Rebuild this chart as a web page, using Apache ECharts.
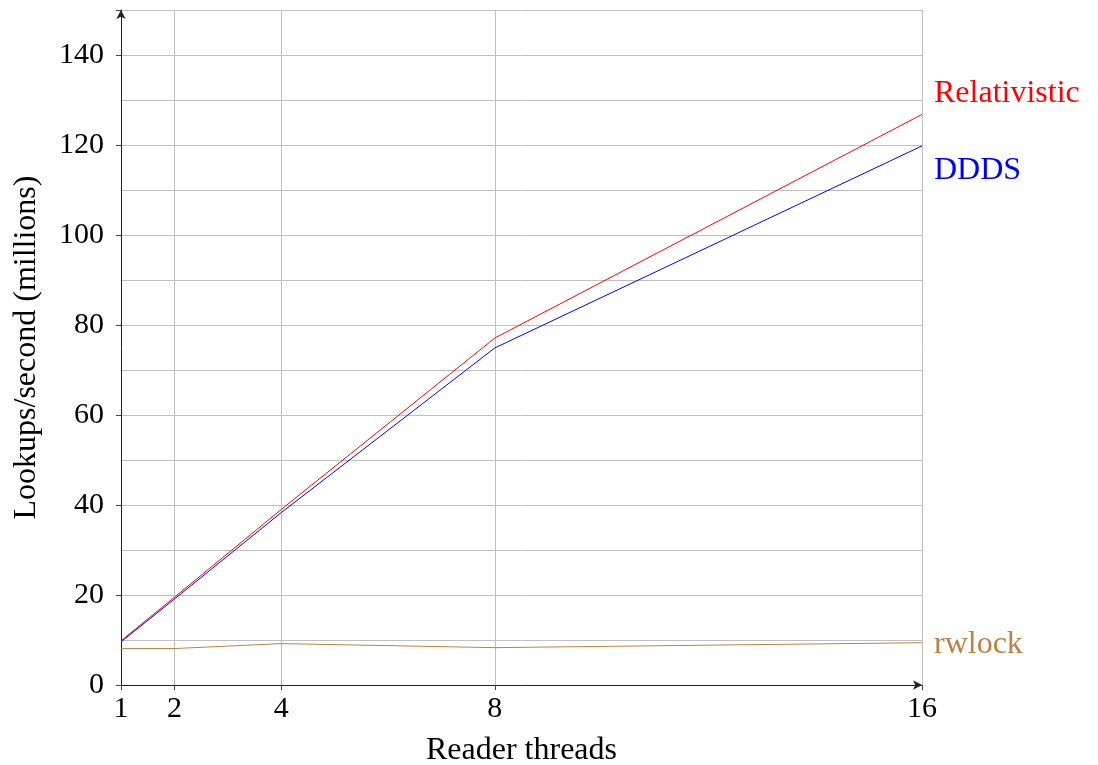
<!DOCTYPE html>
<html>
<head>
<meta charset="utf-8">
<script src="https://cdn.jsdelivr.net/npm/echarts@6/dist/echarts.min.js"></script>
<style>html,body{margin:0;padding:0;background:#fff;}#c{width:1098px;height:765px;}</style>
</head>
<body>
<div id="c"></div>
<script>
const threads = [1, 2, 4, 8, 16];
const xTicks = [1, 2, 4, 8, 16];
const relativistic = [9.8, 19.5, 39.0, 77.1, 126.8];
const ddds = [9.6, 19.1, 38.3, 74.9, 119.8];
const rwlock = [8.1, 8.1, 9.2, 8.3, 9.4];
const seriesNames = ['Relativistic', 'DDDS', 'rwlock'];

const FONT = 'Liberation Serif';
const FS = 30;
const TFS = 32;
const chart = echarts.init(document.getElementById('c'), null, {renderer: 'canvas'});
function pairs(vals) { return threads.map((t, i) => [t, vals[i]]); }
function mk(name, vals, color, off) {
  return {
    name: name, type: 'line', data: pairs(vals), showSymbol: false, symbol: 'none',
    lineStyle: {color: color, width: 1}, itemStyle: {color: color},
    xAxisIndex: 0, yAxisIndex: 0, animation: false, silent: true,
    endLabel: {show: true, formatter: name, color: color, fontFamily: FONT, fontSize: TFS, offset: off, distance: 12}
  };
}
chart.setOption({
  animation: false,
  textStyle: {fontFamily: FONT},
  grid: {left: 121, right: 176, top: 10, bottom: 80, containLabel: false, outerBoundsMode: 'none'},
  xAxis: [{
    type: 'value', min: 1, max: 16,
    name: 'Reader threads', nameLocation: 'middle', nameGap: 50,
    nameTextStyle: {fontFamily: FONT, fontSize: TFS, color: '#000'},
    axisLine: {show: true, lineStyle: {color: '#222', width: 1}, symbol: ['none', 'arrow'], symbolSize: [7, 9]},
    axisTick: {show: true, inside: false, length: 5, lineStyle: {color: '#444'}, customValues: xTicks},
    axisLabel: {customValues: xTicks, fontFamily: FONT, fontSize: FS, color: '#000', margin: 9},
    splitLine: {show: true, lineStyle: {color: '#c0c0c0', width: 1}}
  }],
  yAxis: [{
    type: 'value', min: 0, max: 150, interval: 10,
    axisLine: {show: true, lineStyle: {color: '#222', width: 1}, symbol: ['none', 'arrow'], symbolSize: [7, 9]},
    axisTick: {show: false},
    axisLabel: {show: false},
    splitLine: {show: true, lineStyle: {color: '#c0c0c0', width: 1}}
  }, {
    type: 'value', min: 0, max: 150, interval: 20, position: 'left', offset: 0,
    name: 'Lookups/second (millions)', nameLocation: 'middle', nameGap: 78,
    nameTextStyle: {fontFamily: FONT, fontSize: TFS, color: '#000'},
    axisLine: {show: false},
    axisTick: {show: true, inside: false, length: 5, lineStyle: {color: '#444'}},
    axisLabel: {fontFamily: FONT, fontSize: FS, color: '#000', margin: 17,
      formatter: v => (v % 20 === 0 ? String(v) : '')},
    splitLine: {show: false}
  }],
  series: [
    mk(seriesNames[0], relativistic, '#ff0000', [0, -21]),
    mk(seriesNames[1], ddds, '#0000ff', [0, 25]),
    mk(seriesNames[2], rwlock, '#bf8040', [0, 2])
  ]
});
</script>
</body>
</html>
